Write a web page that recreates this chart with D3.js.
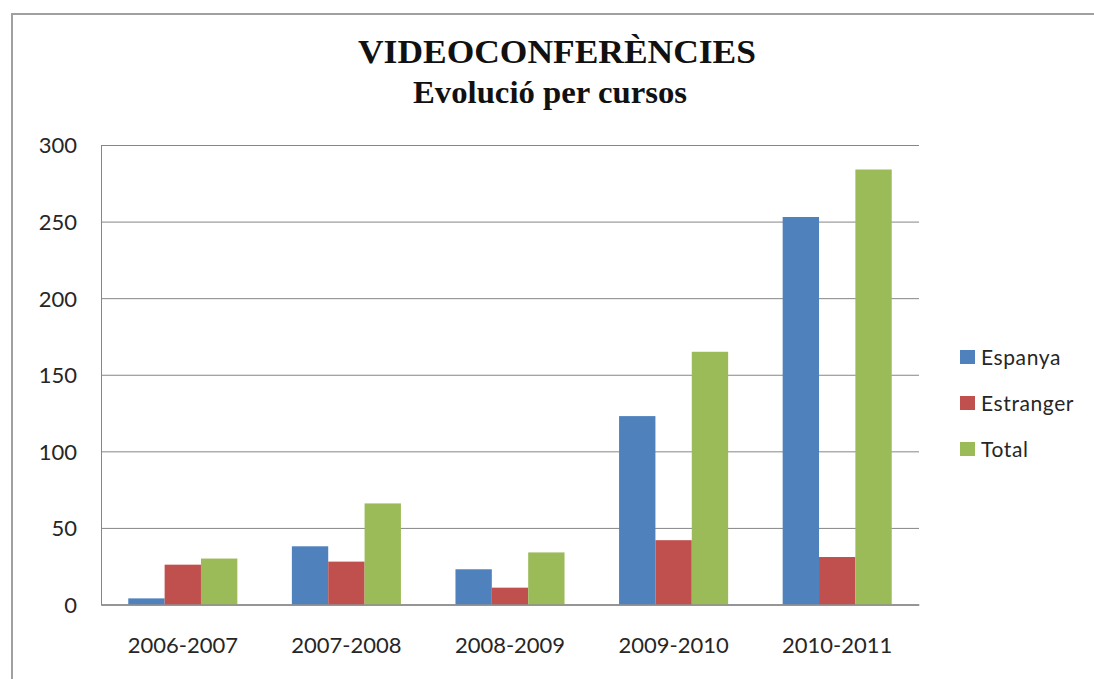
<!DOCTYPE html>
<html>
<head>
<meta charset="utf-8">
<script src="https://cdn.jsdelivr.net/npm/d3@7"></script>
<style>
  html, body { margin: 0; padding: 0; background: #fff; }
  svg { display: block; }
</style>
</head>
<body>
<svg id="chart" width="1094" height="679"></svg>
<script>
const categories = ["2006-2007", "2007-2008", "2008-2009", "2009-2010", "2010-2011"];
const seriesNames = ["Espanya", "Estranger", "Total"];
const espanya = [4, 38, 23, 123, 253];
const estranger = [26, 28, 11, 42, 31];
const total = [30, 66, 34, 165, 284];
const yTicks = [0, 50, 100, 150, 200, 250, 300];
const colors = ["#4F81BD", "#C0504D", "#9BBB59"];
const titleLines = ["VIDEOCONFERÈNCIES", "Evolució per cursos"];

const seriesValues = [espanya, estranger, total];
const svg = d3.select("#chart");

// outer chart border
svg.append("path")
  .attr("d", "M12,679 L12,14 L1094,14")
  .attr("fill", "none")
  .attr("stroke", "#a0a0a0")
  .attr("stroke-width", 2);

const plot = { left: 101, right: 919, top: 145, bottom: 604.5 };

const y = d3.scaleLinear().domain([0, 300]).range([plot.bottom, plot.top]);
const x0 = d3.scaleBand().domain(categories).range([plot.left, plot.right])
  .paddingInner(1/3).paddingOuter(1/6);
const x1 = d3.scaleBand().domain(seriesNames).range([0, x0.bandwidth()]).padding(0);

// gridlines
const yAxis = d3.axisLeft(y).tickValues(yTicks).tickSize(-(plot.right - plot.left)).tickPadding(24);
const gy = svg.append("g").attr("transform", `translate(${plot.left},0)`).call(yAxis);
gy.select(".domain").attr("stroke", "#868686");
gy.selectAll(".tick line").attr("stroke", "#868686").attr("stroke-width", 1);
gy.selectAll(".tick text")
  .attr("font-family", "Lato, 'Open Sans', sans-serif")
  .attr("font-size", 22)
  .attr("fill", "#262626")
  .attr("dy", "0.36em");

// bars
const groups = svg.append("g").selectAll("g")
  .data(categories)
  .join("g")
  .attr("transform", d => `translate(${x0(d)},0)`);

groups.selectAll("rect")
  .data((c, i) => seriesNames.map((s, j) => ({ s, j, v: seriesValues[j][i] })))
  .join("rect")
  .attr("x", d => x1(d.s))
  .attr("width", x1.bandwidth())
  .attr("y", d => y(d.v))
  .attr("height", d => y(0) - y(d.v))
  .attr("fill", d => colors[d.j]);

// x axis
const xAxis = d3.axisBottom(x0).tickSize(0).tickPadding(33);
const gx = svg.append("g").attr("transform", `translate(0,${plot.bottom})`).call(xAxis);
gx.select(".domain").attr("stroke", "#868686");
gx.selectAll(".tick text")
  .attr("font-family", "Lato, 'Open Sans', sans-serif")
  .attr("font-size", 22)
  .attr("fill", "#262626");

// title
svg.append("text")
  .attr("x", 557).attr("y", 63)
  .attr("text-anchor", "middle")
  .attr("font-family", "'Liberation Serif', 'Times New Roman', serif")
  .attr("font-weight", "bold")
  .attr("font-size", 34)
  .attr("textLength", 398)
  .attr("lengthAdjust", "spacingAndGlyphs")
  .attr("fill", "#111")
  .text(titleLines[0]);
svg.append("text")
  .attr("x", 550).attr("y", 103)
  .attr("text-anchor", "middle")
  .attr("font-family", "'Liberation Serif', 'Times New Roman', serif")
  .attr("font-weight", "bold")
  .attr("font-size", 32)
  .attr("textLength", 274)
  .attr("lengthAdjust", "spacingAndGlyphs")
  .attr("fill", "#111")
  .text(titleLines[1]);

// legend
const legend = svg.append("g").selectAll("g")
  .data(seriesNames)
  .join("g")
  .attr("transform", (d, i) => `translate(960,${350 + i * 46})`);
legend.append("rect")
  .attr("width", 15).attr("height", 14)
  .attr("fill", (d, i) => colors[i]);
legend.append("text")
  .attr("x", 21).attr("y", 14.5)
  .attr("font-family", "Lato, 'Open Sans', sans-serif")
  .attr("font-size", 21)
  .attr("letter-spacing", 0.6)
  .attr("fill", "#262626")
  .text(d => d);
</script>
</body>
</html>
